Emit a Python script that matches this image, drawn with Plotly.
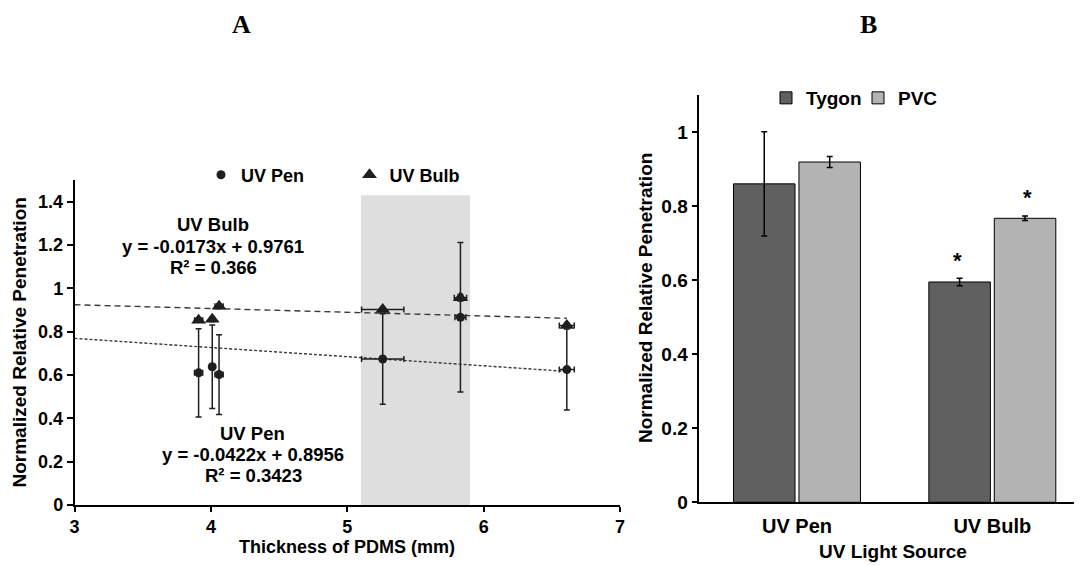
import plotly.graph_objects as go

# ---------------- Panel A data ----------------
pen_x = [3.91, 4.01, 4.06, 5.26, 5.83, 6.61]
pen_y = [0.610, 0.638, 0.602, 0.674, 0.866, 0.625]
pen_yerr = [0.204, 0.193, 0.184, 0.209, 0.345, 0.187]
pen_xerr = [0.03, 0.01, 0.03, 0.155, 0.04, 0.055]

bulb_x = [3.91, 4.01, 4.06, 5.26, 5.83, 6.61]
bulb_y = [0.853, 0.857, 0.917, 0.902, 0.957, 0.829]
bulb_yerr = [0.01, 0.01, 0.01, 0.01, 0.015, 0.01]
bulb_xerr = [0.03, 0.01, 0.03, 0.155, 0.045, 0.055]

pen_fit = [-0.0422, 0.8956]    # slope, intercept
bulb_fit = [-0.0173, 0.9761]
shade_x = [5.1, 5.9]
shade_top = 1.43

# ---------------- Panel B data ----------------
sources = ["UV Pen", "UV Bulb"]
tygon = [0.860, 0.595]
tygon_err = [0.141, 0.010]
pvc = [0.919, 0.767]
pvc_err = [0.015, 0.006]
star_y = [0.653, 0.824]   # asterisk heights for UV Bulb bars

W, H = 1082, 566
OFF = 8  # page body margin in the browser
def fx(p): return (p - OFF) / W
def fy(p): return 1 - (p - OFF) / H

FONT = "Arial, Liberation Sans, sans-serif"
SERIF = "Times New Roman, Liberation Serif, serif"
DARK = "#1f1f1f"

fig = go.Figure()

# trendlines
fit_x = [3, max(pen_x)]
fig.add_trace(go.Scatter(x=fit_x, y=[bulb_fit[0] * v + bulb_fit[1] for v in fit_x],
                         mode="lines", line=dict(color="#3a3a3a", width=1.4, dash="6px,4px"),
                         showlegend=False, hoverinfo="skip", xaxis="x", yaxis="y"))
fig.add_trace(go.Scatter(x=fit_x, y=[pen_fit[0] * v + pen_fit[1] for v in fit_x],
                         mode="lines", line=dict(color="#3a3a3a", width=1.4, dash="3px,2px"),
                         showlegend=False, hoverinfo="skip", xaxis="x", yaxis="y"))

err_style = dict(type="data", color=DARK, thickness=1.5, width=3)
fig.add_trace(go.Scatter(x=pen_x, y=pen_y, mode="markers", name="UV Pen",
                         marker=dict(symbol="circle", size=9, color=DARK),
                         error_y=dict(array=pen_yerr, **err_style),
                         error_x=dict(array=pen_xerr, **err_style),
                         xaxis="x", yaxis="y", legend="legend"))
fig.add_trace(go.Scatter(x=bulb_x, y=bulb_y, mode="markers", name="UV Bulb",
                         marker=dict(symbol="triangle-up", size=13, color=DARK),
                         error_y=dict(array=bulb_yerr, **err_style),
                         error_x=dict(array=bulb_xerr, **err_style),
                         xaxis="x", yaxis="y", legend="legend2"))

# bars
bar_err = dict(type="data", color="black", thickness=1.5, width=3)
fig.add_trace(go.Bar(x=sources, y=tygon, name="Tygon",
                     marker=dict(color="#606060", line=dict(color="black", width=1)),
                     error_y=dict(array=tygon_err, **bar_err),
                     xaxis="x2", yaxis="y2", legend="legend3"))
fig.add_trace(go.Bar(x=sources, y=pvc, name="PVC",
                     marker=dict(color="#b3b3b3", line=dict(color="black", width=1)),
                     error_y=dict(array=pvc_err, **bar_err),
                     xaxis="x2", yaxis="y2", legend="legend3"))

axis_common = dict(showline=True, linecolor="black", linewidth=1.5, ticks="outside",
                   tickcolor="black", tickwidth=1.5, showgrid=False, zeroline=False,
                   automargin=False)

fig.update_layout(
    width=W, height=H, margin=dict(l=0, r=0, t=0, b=0),
    paper_bgcolor="white", plot_bgcolor="white",
    font=dict(family=FONT, color="black"),
    barmode="group", bargap=0.33, bargroupgap=0.06,
    xaxis=dict(domain=[fx(74.5), fx(620)], range=[3, 7], dtick=1, ticklen=5,
               anchor="y", tickfont=dict(size=18, family=FONT, weight="bold"), **axis_common),
    yaxis=dict(domain=[fy(505), fy(180)], range=[0, 1.5], dtick=0.2, ticklen=6,
               anchor="x", tickfont=dict(size=18, family=FONT, weight="bold"), **axis_common),
    xaxis2=dict(domain=[fx(699.3), 1], range=[-0.5, 1.5], type="category", ticks="",
                showline=True, linecolor="black", linewidth=1.5, showgrid=False, zeroline=False,
                automargin=False, anchor="y2", ticklabelstandoff=5,
                tickfont=dict(size=20, family=FONT, weight="bold")),
    yaxis2=dict(domain=[fy(502.3), fy(95)], range=[0, 1.1], dtick=0.2, ticklen=6,
                anchor="x2", tickfont=dict(size=19, family=FONT, weight="bold"), **axis_common),
    legend=dict(x=fx(201), y=fy(175), xanchor="left", yanchor="middle",
                font=dict(size=18, family=FONT, weight="bold"), bgcolor="rgba(0,0,0,0)"),
    legend2=dict(x=fx(349.5), y=fy(175), xanchor="left", yanchor="middle",
                 font=dict(size=18, family=FONT, weight="bold"), bgcolor="rgba(0,0,0,0)"),
    legend3=dict(x=fx(766), y=fy(98), xanchor="left", yanchor="middle", orientation="h",
                 entrywidth=47, entrywidthmode="pixels",
                 font=dict(size=19, family=FONT, weight="bold"), bgcolor="rgba(0,0,0,0)"),
    shapes=[dict(type="rect", xref="x", yref="y", x0=shade_x[0], x1=shade_x[1],
                 y0=0, y1=shade_top, fillcolor="#dedede", line=dict(width=0), layer="below")],
)

def pann(text, x, y, size=18, angle=0, family=FONT, bold=True, yanchor="middle"):
    fig.add_annotation(text=text, x=fx(x), y=fy(y), xref="paper", yref="paper",
                       showarrow=False, textangle=angle, xanchor="center", yanchor=yanchor,
                       font=dict(size=size, family=family, color="black",
                                 weight="bold" if bold else "normal"))

# panel letters, anchored at the very top so they are not clipped
pann("A", 241, OFF, size=26, family=SERIF, yanchor="top")
pann("B", 868, OFF, size=26, family=SERIF, yanchor="top")

pann("UV Bulb", 213, 224, size=18.5)
pann("y = -0.0173x + 0.9761", 212.5, 246.5, size=18.5)
pann("R² = 0.366", 213, 267.5, size=18.5)
pann("UV Pen", 252.5, 433.5, size=18.5)
pann("y = -0.0422x + 0.8956", 252.5, 455, size=18.5)
pann("R² = 0.3423", 253, 475.5, size=18.5)

pann("Thickness of PDMS (mm)", 347, 547)
pann("Normalized Relative Penetration", 18.5, 343, size=19, angle=-90)
pann("UV Light Source", 893, 551, size=19)
pann("Normalized Relative Penetration", 645, 298, size=19, angle=-90)

# asterisks above UV Bulb bars
for off, yv in zip([-0.178, 0.178], star_y):
    fig.add_annotation(text="*", x=1 + off, y=yv, xref="x2", yref="y2", showarrow=False,
                       font=dict(size=22, family=FONT, color="black", weight="bold"))

fig.write_html("out.html")
